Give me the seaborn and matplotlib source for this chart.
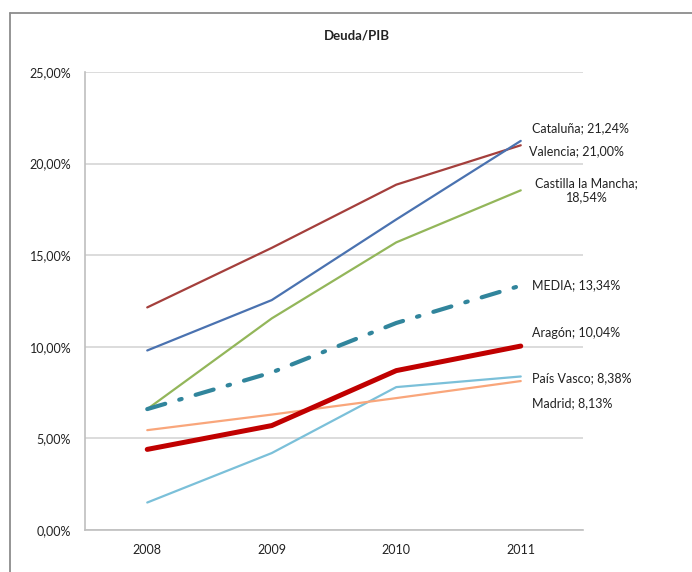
import matplotlib
matplotlib.use("Agg")
import matplotlib.pyplot as plt
from matplotlib.lines import Line2D
import seaborn as sns
import pandas as pd

years = ["2008", "2009", "2010", "2011"]
valencia = [12.15, 15.4, 18.85, 21.00]
cataluna = [9.8, 12.55, 16.95, 21.24]
castilla = [6.6, 11.55, 15.7, 18.54]
media = [6.6, 8.6, 11.3, 13.34]
aragon = [4.4, 5.7, 8.7, 10.04]
pais_vasco = [1.5, 4.2, 7.8, 8.38]
madrid = [5.45, 6.3, 7.2, 8.13]
yticks = [0, 5, 10, 15, 20, 25]
ytick_labels = ["0,00%", "5,00%", "10,00%", "15,00%", "20,00%", "25,00%"]

series = [
    ("Valencia", valencia, "#A43F3C", 1.6, None),
    ("Cataluña", cataluna, "#4A72B0", 1.6, None),
    ("Castilla la Mancha", castilla, "#93B65A", 1.6, None),
    ("País Vasco", pais_vasco, "#7BC0D9", 1.6, None),
    ("Madrid", madrid, "#F9A67B", 1.6, None),
    ("MEDIA", media, "#31859C", 3.0, (4.5, 3.5, 0.6, 3.5)),
    ("Aragón", aragon, "#C00000", 3.6, None),
]

sns.set_style("white")
plt.rcParams["font.family"] = ["Lato", "DejaVu Sans"]

fig = plt.figure(figsize=(6.92, 5.72), dpi=100)
ax = fig.add_axes([85 / 692, 1 - 530 / 572, (583 - 85) / 692, (530 - 72) / 572])

for name, vals, color, lw, dashes in series:
    df = pd.DataFrame({"year": years, "value": vals})
    sns.lineplot(data=df, x="year", y="value", ax=ax, color=color,
                 linewidth=lw, sort=False)
    line = ax.get_lines()[-1]
    line.set_solid_capstyle("round")
    line.set_solid_joinstyle("round")
    if dashes is not None:
        line.set_dashes(dashes)
        line.set_dash_capstyle("round")

ax.set_xlim(-0.5, 3.5)
ax.set_ylim(0, 25)
ax.set_yticks(yticks)
ax.set_yticklabels(ytick_labels)
ax.set_xlabel("")
ax.set_ylabel("")
ax.yaxis.grid(True, color="#D9D9D9", linewidth=1.3)
ax.set_axisbelow(True)
for s in ["top", "right"]:
    ax.spines[s].set_visible(False)
for s in ["left", "bottom"]:
    ax.spines[s].set_color("#BFBFBF")
    ax.spines[s].set_linewidth(1.2)
ax.set_xticks([-0.5, 0.5, 1.5, 2.5, 3.5], minor=True)
ax.tick_params(axis="x", which="major", length=0, pad=10, labelsize=9, labelcolor="#222222")
ax.tick_params(axis="x", which="minor", length=4, color="#BFBFBF", width=1)
ax.tick_params(axis="y", which="major", length=4, color="#BFBFBF", width=1, pad=6,
               labelsize=9, labelcolor="#222222")

fig.text(357 / 692, 1 - 35 / 572, "Deuda/PIB", ha="center", va="center",
         fontsize=9.5, fontweight="bold", color="#222222")

labels = [
    ("Cataluña; 21,24%", 21.94, "left", 3.09),
    ("Valencia; 21,00%", 20.69, "left", 3.07),
    ("Castilla la Mancha;\n18,54%", 18.53, "center", 3.53),
    ("MEDIA; 13,34%", 13.37, "left", 3.09),
    ("Aragón; 10,04%", 10.75, "left", 3.09),
    ("País Vasco; 8,38%", 8.30, "left", 3.09),
    ("Madrid; 8,13%", 6.93, "left", 3.09),
]
for txt, y, ha, x in labels:
    ax.text(x, y, txt, ha=ha, va="center", fontsize=9, color="#222222",
            clip_on=False, linespacing=1.2)

# outer frame (left and top edges visible)
fig.add_artist(Line2D([10 / 692, 10 / 692], [0, 1 - 13 / 572], transform=fig.transFigure,
                      color="#8C8C8C", linewidth=1.3))
fig.add_artist(Line2D([10 / 692, 1], [1 - 13 / 572, 1 - 13 / 572], transform=fig.transFigure,
                      color="#8C8C8C", linewidth=1.3))

fig.savefig("out.png", dpi=100)
